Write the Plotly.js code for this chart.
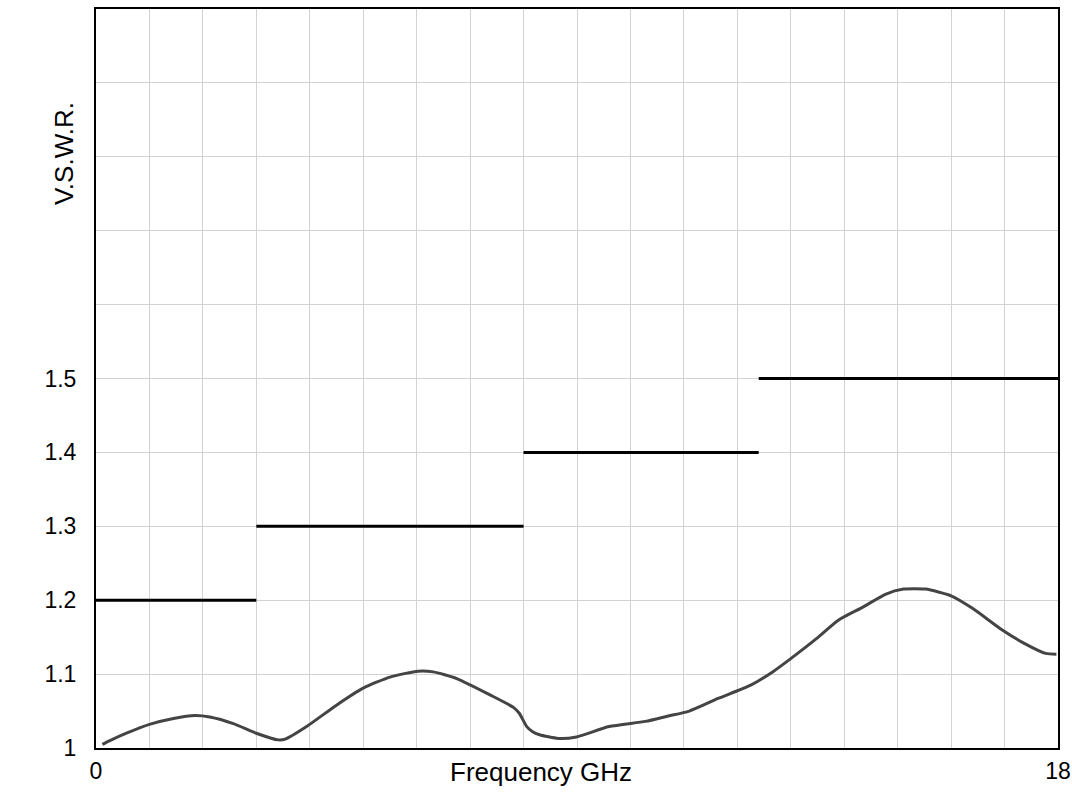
<!DOCTYPE html>
<html>
<head>
<meta charset="utf-8">
<script src="https://cdn.plot.ly/plotly-3.0.1.min.js"></script>
<style>html,body{margin:0;padding:0;background:#fff;}#chart{width:1072px;height:795px;}</style>
</head>
<body>
<div id="chart"></div>
<script>
// Measured VSWR curve (frequency in GHz)
const freqGHz = [0.12, 0.26, 0.57, 1.0, 1.45, 1.85, 2.13, 2.57, 3.0, 3.41, 3.54, 3.94, 4.5, 5.0, 5.5, 6.03, 6.31, 6.75, 7.37, 7.81, 7.92, 8.06, 8.17, 8.3, 8.65, 8.99, 9.6, 10.28, 10.69, 11.1, 11.64, 12.25, 12.66, 13.0, 13.48, 13.89, 14.36, 14.77, 15.11, 15.52, 16.0, 16.4, 16.95, 17.36, 17.77, 17.97];
const vswr = [1.005, 1.010, 1.020, 1.032, 1.040, 1.044, 1.042, 1.033, 1.020, 1.011, 1.012, 1.029, 1.058, 1.081, 1.096, 1.104, 1.103, 1.094, 1.072, 1.055, 1.047, 1.029, 1.022, 1.018, 1.013, 1.015, 1.029, 1.036, 1.043, 1.050, 1.067, 1.085, 1.103, 1.121, 1.148, 1.173, 1.191, 1.208, 1.215, 1.215, 1.206, 1.189, 1.160, 1.142, 1.128, 1.127];

// Specification limit steps
const limitStart = [0, 3, 8, 12.4];
const limitEnd = [3, 8, 12.4, 18];
const limitValue = [1.2, 1.3, 1.4, 1.5];

// Axis ticks
const xTickVals = [0,1,2,3,4,5,6,7,8,9,10,11,12,13,14,15,16,17,18];
const xTickText = ["0","","","","","","","","","","","","","","","","","","18"];
const yTickVals = [1,1.1,1.2,1.3,1.4,1.5,1.6,1.7,1.8,1.9,2];
const yTickText = ["1","1.1","1.2","1.3","1.4","1.5","","","","",""];

const limX = [], limY = [];
for (let i = 0; i < limitValue.length; i++) {
  limX.push(limitStart[i], limitEnd[i], null);
  limY.push(limitValue[i], limitValue[i], null);
}

const traces = [
  {x: limX, y: limY, mode: 'lines', line: {color: '#000', width: 3}, hoverinfo: 'skip', connectgaps: false},
  {x: freqGHz, y: vswr, mode: 'lines', line: {color: '#444', width: 3, shape: 'spline', smoothing: 0.6}}
];

const font = {family: 'Arial, "Liberation Sans", sans-serif', color: '#000'};

const layout = {
  width: 1072, height: 795,
  margin: {l: 96, r: 14, t: 9, b: 47},
  paper_bgcolor: '#fff', plot_bgcolor: '#fff',
  showlegend: false,
  font: font,
  xaxis: {
    range: [0, 18], tickvals: xTickVals, ticktext: xTickText,
    showgrid: true, gridcolor: '#d3d3d3', gridwidth: 1,
    showline: true, linecolor: '#000', linewidth: 2, mirror: true,
    ticks: '', zeroline: false, tickfont: {size: 23, family: font.family, color: '#000'},
    ticklabelstandoff: 1
  },
  yaxis: {
    range: [1, 2], tickvals: yTickVals, ticktext: yTickText,
    showgrid: true, gridcolor: '#d3d3d3', gridwidth: 1,
    showline: true, linecolor: '#000', linewidth: 2, mirror: true,
    ticks: '', zeroline: false, tickfont: {size: 23, family: font.family, color: '#000'},
    ticklabelstandoff: 13
  },
  annotations: [
    {text: 'V.S.W.R.', xref: 'paper', yref: 'paper', x: -0.033, y: 0.804, textangle: -90,
     showarrow: false, font: {size: 26, family: font.family, color: '#000'}, xanchor: 'center', yanchor: 'middle'},
    {text: 'Frequency GHz', xref: 'paper', yref: 'paper', x: 0.4626, y: -0.033,
     showarrow: false, font: {size: 26, family: font.family, color: '#000'}, xanchor: 'center', yanchor: 'middle'}
  ]
};

Plotly.newPlot('chart', traces, layout, {displayModeBar: false, staticPlot: true});
</script>
</body>
</html>
